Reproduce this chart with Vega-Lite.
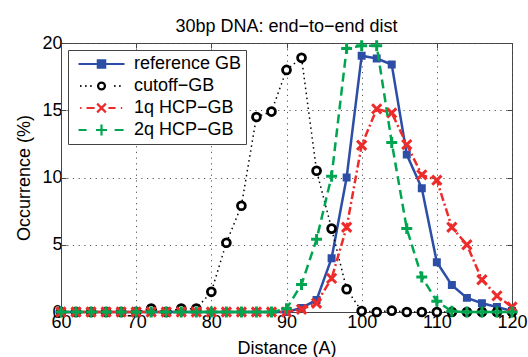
{
  "$schema": "https://vega.github.io/schema/vega-lite/v6.json",
  "width": 451,
  "height": 269,
  "autosize": {"type": "none"},
  "padding": {"left": 61, "top": 43, "right": 16, "bottom": 45},
  "background": "white",
  "title": {"text": "30bp DNA: end−to−end dist", "fontSize": 18, "fontWeight": "normal", "font": "Liberation Sans", "color": "black", "offset": -16, "baseline": "alphabetic"},
  "config": {"view": {"stroke": "#444", "strokeWidth": 1}, "font": "Liberation Sans"},
  "data": {"values": [
    {"d": 60, "reference GB": 0, "cutoff−GB": 0, "1q HCP−GB": 0, "2q HCP−GB": 0},
    {"d": 62, "reference GB": 0, "cutoff−GB": 0, "1q HCP−GB": 0, "2q HCP−GB": 0},
    {"d": 64, "reference GB": 0, "cutoff−GB": 0, "1q HCP−GB": 0, "2q HCP−GB": 0},
    {"d": 66, "reference GB": 0, "cutoff−GB": 0, "1q HCP−GB": 0, "2q HCP−GB": 0},
    {"d": 68, "reference GB": 0, "cutoff−GB": 0, "1q HCP−GB": 0, "2q HCP−GB": 0},
    {"d": 70, "reference GB": 0, "cutoff−GB": 0, "1q HCP−GB": 0, "2q HCP−GB": 0},
    {"d": 72, "reference GB": 0, "cutoff−GB": 0.25, "1q HCP−GB": 0, "2q HCP−GB": 0},
    {"d": 74, "reference GB": 0, "cutoff−GB": 0, "1q HCP−GB": 0, "2q HCP−GB": 0},
    {"d": 76, "reference GB": 0, "cutoff−GB": 0.25, "1q HCP−GB": 0, "2q HCP−GB": 0},
    {"d": 78, "reference GB": 0, "cutoff−GB": 0.25, "1q HCP−GB": 0, "2q HCP−GB": 0},
    {"d": 80, "reference GB": 0, "cutoff−GB": 1.5, "1q HCP−GB": 0, "2q HCP−GB": 0},
    {"d": 82, "reference GB": 0, "cutoff−GB": 5.15, "1q HCP−GB": 0, "2q HCP−GB": 0},
    {"d": 84, "reference GB": 0, "cutoff−GB": 7.9, "1q HCP−GB": 0, "2q HCP−GB": 0},
    {"d": 86, "reference GB": 0, "cutoff−GB": 14.5, "1q HCP−GB": 0, "2q HCP−GB": 0},
    {"d": 88, "reference GB": 0, "cutoff−GB": 14.9, "1q HCP−GB": 0, "2q HCP−GB": 0},
    {"d": 90, "reference GB": 0, "cutoff−GB": 18.0, "1q HCP−GB": 0, "2q HCP−GB": 0.25},
    {"d": 92, "reference GB": 0.3, "cutoff−GB": 18.9, "1q HCP−GB": 0.2, "2q HCP−GB": 2.05},
    {"d": 94, "reference GB": 0.9, "cutoff−GB": 10.5, "1q HCP−GB": 0.65, "2q HCP−GB": 5.4},
    {"d": 96, "reference GB": 4.0, "cutoff−GB": 6.2, "1q HCP−GB": 2.5, "2q HCP−GB": 10.1},
    {"d": 98, "reference GB": 10.0, "cutoff−GB": 1.7, "1q HCP−GB": 6.3, "2q HCP−GB": 19.6},
    {"d": 100, "reference GB": 19.05, "cutoff−GB": 0.07, "1q HCP−GB": 12.4, "2q HCP−GB": 19.8},
    {"d": 102, "reference GB": 18.85, "cutoff−GB": 0, "1q HCP−GB": 15.1, "2q HCP−GB": 19.8},
    {"d": 104, "reference GB": 18.4, "cutoff−GB": 0.1, "1q HCP−GB": 14.8, "2q HCP−GB": 12.6},
    {"d": 106, "reference GB": 11.7, "cutoff−GB": 0, "1q HCP−GB": 12.45, "2q HCP−GB": 6.2},
    {"d": 108, "reference GB": 9.2, "cutoff−GB": 0, "1q HCP−GB": 10.2, "2q HCP−GB": 2.6},
    {"d": 110, "reference GB": 3.7, "cutoff−GB": 0, "1q HCP−GB": 9.8, "2q HCP−GB": 0.8},
    {"d": 112, "reference GB": 2.0, "cutoff−GB": 0, "1q HCP−GB": 6.3, "2q HCP−GB": 0.05},
    {"d": 114, "reference GB": 1.05, "cutoff−GB": 0, "1q HCP−GB": 5.0, "2q HCP−GB": 0},
    {"d": 116, "reference GB": 0.65, "cutoff−GB": 0, "1q HCP−GB": 2.4, "2q HCP−GB": 0},
    {"d": 118, "reference GB": 0.37, "cutoff−GB": 0, "1q HCP−GB": 1.2, "2q HCP−GB": 0},
    {"d": 120, "reference GB": 0.07, "cutoff−GB": 0, "1q HCP−GB": 0.37, "2q HCP−GB": 0}
  ]},
  "transform": [{"fold": ["reference GB", "cutoff−GB", "1q HCP−GB", "2q HCP−GB"], "as": ["series", "value"]}],
  "layer": [
    {
      "encoding": {
        "x": {"field": "d", "type": "quantitative", "scale": {"domain": [60, 120], "nice": false, "zero": false},
          "axis": {"title": "Distance (A)", "values": [60, 70, 80, 90, 100, 110, 120], "grid": true, "gridDash": [1.2, 4.5], "gridColor": "#555", "gridOpacity": 1, "tickSize": -5, "tickColor": "#444", "domainColor": "#444", "labelFontSize": 18, "labelFont": "Liberation Sans", "labelColor": "black", "labelPadding": 6, "labelFlush": false, "labelOverlap": false, "titleFontSize": 18, "titleFont": "Liberation Sans", "titleFontWeight": "normal", "titleColor": "black", "titlePadding": 8}},
        "y": {"field": "value", "type": "quantitative", "scale": {"domain": [0, 20], "nice": false, "zero": false},
          "axis": {"title": "Occurrence (%)", "values": [0, 5, 10, 15, 20], "grid": true, "gridDash": [1.2, 4.5], "gridColor": "#555", "gridOpacity": 1, "tickSize": -5, "tickColor": "#444", "domainColor": "#444", "labelFontSize": 18, "labelFont": "Liberation Sans", "labelColor": "black", "labelPadding": 4, "labelFlush": false, "labelOverlap": false, "titleFontSize": 18, "titleFont": "Liberation Sans", "titleFontWeight": "normal", "titleColor": "black", "titlePadding": 8}}
      },
      "layer": [
        {"transform": [{"filter": "datum.series == 'reference GB'"}], "mark": {"type": "line", "color": "#2c4ea6", "strokeWidth": 2.5}},
        {"transform": [{"filter": "datum.series == 'reference GB'"}], "mark": {"type": "point", "shape": "square", "filled": false, "color": "#2c4ea6", "strokeWidth": 3.5, "size": 20, "opacity": 1}},
        {"transform": [{"filter": "datum.series == 'cutoff−GB'"}], "mark": {"type": "line", "color": "black", "strokeWidth": 1.5, "strokeDash": [1.5, 3.5]}},
        {"transform": [{"filter": "datum.series == 'cutoff−GB'"}], "mark": {"type": "point", "shape": "circle", "filled": false, "color": "black", "fill": "white", "strokeWidth": 2.8, "size": 62, "opacity": 1}},
        {"transform": [{"filter": "datum.series == '1q HCP−GB'"}], "mark": {"type": "line", "color": "#ee2b2b", "strokeWidth": 2.5, "strokeDash": [8, 3, 2, 3]}},
        {"transform": [{"filter": "datum.series == '1q HCP−GB'"}], "mark": {"type": "point", "shape": "M-1,-1L1,1M-1,1L1,-1", "filled": false, "color": "#ee2b2b", "strokeWidth": 3, "size": 85, "opacity": 1}},
        {"transform": [{"filter": "datum.series == '2q HCP−GB'"}], "mark": {"type": "line", "color": "#00a550", "strokeWidth": 2.5, "strokeDash": [9, 5]}},
        {"transform": [{"filter": "datum.series == '2q HCP−GB'"}], "mark": {"type": "point", "shape": "M-1,0H1M0,-1V1", "filled": false, "color": "#00a550", "strokeWidth": 3, "size": 120, "opacity": 1}}
      ]
    },
    {
      "mark": {"type": "point", "filled": true, "opacity": 0, "size": 2116},
      "encoding": {
        "x": {"field": "d", "type": "quantitative", "scale": {"domain": [60, 120], "nice": false, "zero": false},
          "axis": {"orient": "top", "title": null, "labels": false, "grid": false, "domain": false, "values": [60, 70, 80, 90, 100, 110, 120], "tickSize": -5, "tickColor": "#444"}},
        "y": {"field": "value", "type": "quantitative", "scale": {"domain": [0, 20], "nice": false, "zero": false},
          "axis": {"orient": "right", "title": null, "labels": false, "grid": false, "domain": false, "values": [0, 5, 10, 15, 20], "tickSize": -5, "tickColor": "#444"}},
        "stroke": {"field": "series", "type": "nominal",
          "scale": {"domain": ["reference GB", "cutoff−GB", "1q HCP−GB", "2q HCP−GB"], "range": ["#2c4ea6", "black", "#ee2b2b", "#00a550"]},
          "legend": {"orient": "top-left", "offset": 7, "padding": 4, "strokeColor": "#444", "fillColor": "white", "title": null, "labelFontSize": 18, "labelFont": "Liberation Sans", "labelColor": "black", "symbolSize": 2116, "symbolStrokeWidth": 2.2, "symbolOpacity": 1, "symbolFillOpacity": 1, "clipHeight": 20, "rowPadding": 2, "symbolOffset": 5, "labelOffset": 8, "labelLimit": 300}},
        "fill": {"field": "series", "type": "nominal",
          "scale": {"domain": ["reference GB", "cutoff−GB", "1q HCP−GB", "2q HCP−GB"], "range": ["#2c4ea6", "white", "transparent", "transparent"]}},
        "shape": {"field": "series", "type": "nominal",
          "scale": {"domain": ["reference GB", "cutoff−GB", "1q HCP−GB", "2q HCP−GB"], "range": [
            "M-1,0H1M-0.16,-0.16H0.16V0.16H-0.16ZM-0.08,-0.08H0.08V0.08H-0.08ZM0,-0.1V0.1",
            "M-0.93,0H-0.87M-0.71,0H-0.65M-0.49,0H-0.43M0.55,0H0.61M0.77,0H0.83M0.15,0A0.15,0.15,0,1,1,-0.15,0A0.15,0.15,0,1,1,0.15,0Z",
            "M-0.93,0H-0.87M-0.65,0H-0.3M0.3,0H0.61M0.84,0H0.9M-0.19,-0.19L0.19,0.19M-0.19,0.19L0.19,-0.19",
            "M-1,0H-0.65M0.57,0H0.96M-0.24,0H0.24M0,-0.24V0.24"]}}
      }
    }
  ],
  "resolve": {"axis": {"x": "independent", "y": "independent"}}
}
